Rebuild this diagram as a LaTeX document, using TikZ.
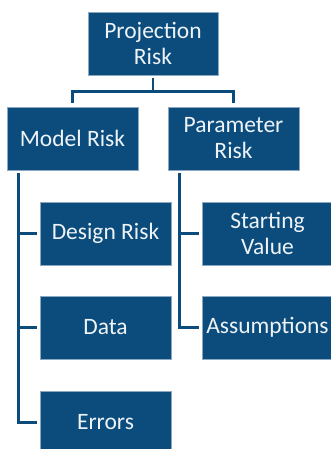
\documentclass[tikz,border=0pt]{standalone}
\usepackage{fontspec}
\setmainfont{Carlito}
\definecolor{boxblue}{HTML}{0B4C7C}
\definecolor{boxedge}{HTML}{8DA8C2}
\definecolor{txt}{HTML}{EEF3F8}
\begin{document}
\begin{tikzpicture}[x=1pt,y=1pt,
  box/.style={draw=boxedge,line width=0.6pt,fill=boxblue,text=txt,minimum width=131pt,minimum height=63pt,
    inner sep=0pt,align=center,font=\fontsize{23.5}{26}\selectfont},
  conn/.style={draw=boxblue,line width=2.6pt}]
\useasboundingbox (0,0) rectangle (331,-449);
\clip (0,0) rectangle (331,-449);
\node[box,minimum width=130pt] (top) at (153,-43.5) {Projection\\Risk};
\node[box] (model) at (72.5,-138.5) {Model Risk};
\node[box] (param) at (233.5,-138.5) {Parameter\\Risk};
\node[box] (design) at (105.5,-233.5) {Design Risk};
\node[box] (data) at (105.5,-327.5) {Data};
\node[box] (errors) at (105.5,-422.5) {Errors};
\node[box] (start) at (267.5,-233.5) {Starting\\Value};
\node[box] (assum) at (267.5,-327.5) {Assumptions};
% top connectors
\draw[conn,shorten <=3pt,shorten >=4pt] (top.south) -- ++(0,-16) -| (model.north);
\draw[conn,shorten <=3pt,shorten >=4pt] (top.south) -- ++(0,-16) -| (param.north);
% model trunk
\draw[conn,shorten <=3pt,shorten >=3pt] ([xshift=12pt]model.south west) |- (errors.west);
\draw[conn,shorten >=3pt] ([xshift=12pt]model.south west |- design.west) -- (design.west);
\draw[conn,shorten >=3pt] ([xshift=12pt]model.south west |- data.west) -- (data.west);
% parameter trunk
\draw[conn,shorten <=3pt,shorten >=3pt] ([xshift=12pt]param.south west) |- (assum.west);
\draw[conn,shorten >=3pt] ([xshift=12pt]param.south west |- start.west) -- (start.west);
\end{tikzpicture}
\end{document}
